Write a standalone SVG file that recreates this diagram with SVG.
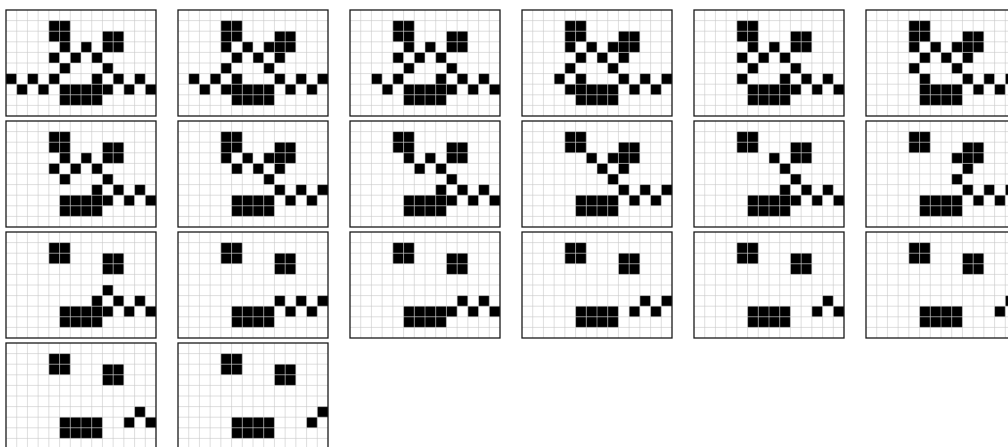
<svg xmlns="http://www.w3.org/2000/svg" xmlns:xlink="http://www.w3.org/1999/xlink" width="1008" height="447" viewBox="0 0 1008 447">
<style>
.bg{fill:#fff}
.grid{fill:none;stroke:#c8c8c8;stroke-opacity:0.6;stroke-width:1}
.frame{fill:none;stroke:#1a1a1a;stroke-width:1.3}
.live{fill:#000}
</style>
<defs>
<rect id="c" width="1" height="1"/>
<path id="gridlines" d="M10.71 0V106M21.43 0V106M32.14 0V106M42.86 0V106M53.57 0V106M64.29 0V106M75 0V106M85.71 0V106M96.43 0V106M107.14 0V106M117.86 0V106M128.57 0V106M139.29 0V106M0 10.6H150M0 21.2H150M0 31.8H150M0 42.4H150M0 53H150M0 63.6H150M0 74.2H150M0 84.8H150M0 95.4H150"/>
<g id="base">
<use href="#c" x="4" y="1"/><use href="#c" x="5" y="1"/><use href="#c" x="4" y="2"/><use href="#c" x="5" y="2"/>
<use href="#c" x="9" y="2"/><use href="#c" x="10" y="2"/><use href="#c" x="9" y="3"/><use href="#c" x="10" y="3"/>
<use href="#c" x="5" y="8"/><use href="#c" x="6" y="8"/><use href="#c" x="7" y="8"/><use href="#c" x="8" y="8"/>
</g>
<g id="oddStream">
<use href="#c" x="8" y="6"/><use href="#c" x="10" y="6"/><use href="#c" x="12" y="6"/>
<use href="#c" x="5" y="7"/><use href="#c" x="6" y="7"/><use href="#c" x="7" y="7"/><use href="#c" x="8" y="7"/><use href="#c" x="9" y="7"/><use href="#c" x="11" y="7"/><use href="#c" x="13" y="7"/>
</g>
<g id="evenStream">
<use href="#c" x="9" y="6"/><use href="#c" x="11" y="6"/><use href="#c" x="13" y="6"/>
<use href="#c" x="5" y="7"/><use href="#c" x="6" y="7"/><use href="#c" x="7" y="7"/><use href="#c" x="8" y="7"/><use href="#c" x="10" y="7"/><use href="#c" x="12" y="7"/>
</g>
<g id="oddDiag">
<use href="#c" x="5" y="3"/><use href="#c" x="7" y="3"/><use href="#c" x="4" y="4"/><use href="#c" x="6" y="4"/><use href="#c" x="8" y="4"/><use href="#c" x="5" y="5"/><use href="#c" x="9" y="5"/>
</g>
<g id="evenDiag">
<use href="#c" x="4" y="3"/><use href="#c" x="6" y="3"/><use href="#c" x="8" y="3"/><use href="#c" x="5" y="4"/><use href="#c" x="7" y="4"/><use href="#c" x="9" y="4"/><use href="#c" x="4" y="5"/><use href="#c" x="8" y="5"/>
</g>
</defs>

<g id="panel1" transform="translate(6,10)">
<rect class="bg" width="150" height="106"/>
<g class="live" transform="scale(10.7143,10.6)">
<use href="#base"/><use href="#oddDiag"/><use href="#oddStream"/>
<use href="#c" x="0" y="6"/><use href="#c" x="2" y="6"/><use href="#c" x="4" y="6"/><use href="#c" x="1" y="7"/><use href="#c" x="3" y="7"/>
</g>
<use href="#gridlines" class="grid"/><rect class="frame" width="150" height="106"/>
</g>

<g id="panel2" transform="translate(178,10)">
<rect class="bg" width="150" height="106"/>
<g class="live" transform="scale(10.7143,10.6)">
<use href="#base"/><use href="#evenDiag"/><use href="#evenStream"/>
<use href="#c" x="1" y="6"/><use href="#c" x="3" y="6"/><use href="#c" x="5" y="6"/><use href="#c" x="2" y="7"/><use href="#c" x="4" y="7"/>
</g>
<use href="#gridlines" class="grid"/><rect class="frame" width="150" height="106"/>
</g>

<g id="panel3" transform="translate(350,10)">
<rect class="bg" width="150" height="106"/>
<g class="live" transform="scale(10.7143,10.6)">
<use href="#base"/><use href="#oddDiag"/><use href="#oddStream"/>
<use href="#c" x="2" y="6"/><use href="#c" x="4" y="6"/><use href="#c" x="3" y="7"/>
</g>
<use href="#gridlines" class="grid"/><rect class="frame" width="150" height="106"/>
</g>

<g id="panel4" transform="translate(522,10)">
<rect class="bg" width="150" height="106"/>
<g class="live" transform="scale(10.7143,10.6)">
<use href="#base"/><use href="#evenDiag"/><use href="#evenStream"/>
<use href="#c" x="3" y="6"/><use href="#c" x="5" y="6"/><use href="#c" x="4" y="7"/>
</g>
<use href="#gridlines" class="grid"/><rect class="frame" width="150" height="106"/>
</g>

<g id="panel5" transform="translate(694,10)">
<rect class="bg" width="150" height="106"/>
<g class="live" transform="scale(10.7143,10.6)">
<use href="#base"/><use href="#oddDiag"/><use href="#oddStream"/>
<use href="#c" x="4" y="6"/>
</g>
<use href="#gridlines" class="grid"/><rect class="frame" width="150" height="106"/>
</g>

<g id="panel6" transform="translate(866,10)">
<rect class="bg" width="150" height="106"/>
<g class="live" transform="scale(10.7143,10.6)">
<use href="#base"/><use href="#evenDiag"/><use href="#evenStream"/>
<use href="#c" x="5" y="6"/>
</g>
<use href="#gridlines" class="grid"/><rect class="frame" width="150" height="106"/>
</g>

<g id="panel7" transform="translate(6,121)">
<rect class="bg" width="150" height="106"/>
<g class="live" transform="scale(10.7143,10.6)">
<use href="#base"/><use href="#oddDiag"/><use href="#oddStream"/>
</g>
<use href="#gridlines" class="grid"/><rect class="frame" width="150" height="106"/>
</g>

<g id="panel8" transform="translate(178,121)">
<rect class="bg" width="150" height="106"/>
<g class="live" transform="scale(10.7143,10.6)">
<use href="#base"/><use href="#evenStream"/>
<use href="#c" x="4" y="3"/><use href="#c" x="6" y="3"/><use href="#c" x="8" y="3"/><use href="#c" x="5" y="4"/><use href="#c" x="7" y="4"/><use href="#c" x="9" y="4"/><use href="#c" x="8" y="5"/>
</g>
<use href="#gridlines" class="grid"/><rect class="frame" width="150" height="106"/>
</g>

<g id="panel9" transform="translate(350,121)">
<rect class="bg" width="150" height="106"/>
<g class="live" transform="scale(10.7143,10.6)">
<use href="#base"/><use href="#oddStream"/>
<use href="#c" x="5" y="3"/><use href="#c" x="7" y="3"/><use href="#c" x="6" y="4"/><use href="#c" x="8" y="4"/><use href="#c" x="9" y="5"/>
</g>
<use href="#gridlines" class="grid"/><rect class="frame" width="150" height="106"/>
</g>

<g id="panel10" transform="translate(522,121)">
<rect class="bg" width="150" height="106"/>
<g class="live" transform="scale(10.7143,10.6)">
<use href="#base"/><use href="#evenStream"/>
<use href="#c" x="6" y="3"/><use href="#c" x="8" y="3"/><use href="#c" x="7" y="4"/><use href="#c" x="9" y="4"/><use href="#c" x="8" y="5"/>
</g>
<use href="#gridlines" class="grid"/><rect class="frame" width="150" height="106"/>
</g>

<g id="panel11" transform="translate(694,121)">
<rect class="bg" width="150" height="106"/>
<g class="live" transform="scale(10.7143,10.6)">
<use href="#base"/><use href="#oddStream"/>
<use href="#c" x="7" y="3"/><use href="#c" x="8" y="4"/><use href="#c" x="9" y="5"/>
</g>
<use href="#gridlines" class="grid"/><rect class="frame" width="150" height="106"/>
</g>

<g id="panel12" transform="translate(866,121)">
<rect class="bg" width="150" height="106"/>
<g class="live" transform="scale(10.7143,10.6)">
<use href="#base"/><use href="#evenStream"/>
<use href="#c" x="8" y="3"/><use href="#c" x="9" y="4"/><use href="#c" x="8" y="5"/>
</g>
<use href="#gridlines" class="grid"/><rect class="frame" width="150" height="106"/>
</g>

<g id="panel13" transform="translate(6,232)">
<rect class="bg" width="150" height="106"/>
<g class="live" transform="scale(10.7143,10.6)">
<use href="#base"/><use href="#oddStream"/>
<use href="#c" x="9" y="5"/>
</g>
<use href="#gridlines" class="grid"/><rect class="frame" width="150" height="106"/>
</g>

<g id="panel14" transform="translate(178,232)">
<rect class="bg" width="150" height="106"/>
<g class="live" transform="scale(10.7143,10.6)">
<use href="#base"/><use href="#evenStream"/>
</g>
<use href="#gridlines" class="grid"/><rect class="frame" width="150" height="106"/>
</g>

<g id="panel15" transform="translate(350,232)">
<rect class="bg" width="150" height="106"/>
<g class="live" transform="scale(10.7143,10.6)">
<use href="#base"/>
<use href="#c" x="10" y="6"/><use href="#c" x="12" y="6"/>
<use href="#c" x="5" y="7"/><use href="#c" x="6" y="7"/><use href="#c" x="7" y="7"/><use href="#c" x="8" y="7"/><use href="#c" x="9" y="7"/><use href="#c" x="11" y="7"/><use href="#c" x="13" y="7"/>
</g>
<use href="#gridlines" class="grid"/><rect class="frame" width="150" height="106"/>
</g>

<g id="panel16" transform="translate(522,232)">
<rect class="bg" width="150" height="106"/>
<g class="live" transform="scale(10.7143,10.6)">
<use href="#base"/>
<use href="#c" x="11" y="6"/><use href="#c" x="13" y="6"/>
<use href="#c" x="5" y="7"/><use href="#c" x="6" y="7"/><use href="#c" x="7" y="7"/><use href="#c" x="8" y="7"/><use href="#c" x="10" y="7"/><use href="#c" x="12" y="7"/>
</g>
<use href="#gridlines" class="grid"/><rect class="frame" width="150" height="106"/>
</g>

<g id="panel17" transform="translate(694,232)">
<rect class="bg" width="150" height="106"/>
<g class="live" transform="scale(10.7143,10.6)">
<use href="#base"/>
<use href="#c" x="12" y="6"/>
<use href="#c" x="5" y="7"/><use href="#c" x="6" y="7"/><use href="#c" x="7" y="7"/><use href="#c" x="8" y="7"/><use href="#c" x="11" y="7"/><use href="#c" x="13" y="7"/>
</g>
<use href="#gridlines" class="grid"/><rect class="frame" width="150" height="106"/>
</g>

<g id="panel18" transform="translate(866,232)">
<rect class="bg" width="150" height="106"/>
<g class="live" transform="scale(10.7143,10.6)">
<use href="#base"/>
<use href="#c" x="13" y="6"/>
<use href="#c" x="5" y="7"/><use href="#c" x="6" y="7"/><use href="#c" x="7" y="7"/><use href="#c" x="8" y="7"/><use href="#c" x="12" y="7"/>
</g>
<use href="#gridlines" class="grid"/><rect class="frame" width="150" height="106"/>
</g>

<g id="panel19" transform="translate(6,343)">
<rect class="bg" width="150" height="106"/>
<g class="live" transform="scale(10.7143,10.6)">
<use href="#base"/>
<use href="#c" x="12" y="6"/><use href="#c" x="11" y="7"/><use href="#c" x="13" y="7"/>
<use href="#c" x="5" y="7"/><use href="#c" x="6" y="7"/><use href="#c" x="7" y="7"/><use href="#c" x="8" y="7"/>
</g>
<use href="#gridlines" class="grid"/><rect class="frame" width="150" height="106"/>
</g>

<g id="panel20" transform="translate(178,343)">
<rect class="bg" width="150" height="106"/>
<g class="live" transform="scale(10.7143,10.6)">
<use href="#base"/>
<use href="#c" x="13" y="6"/><use href="#c" x="12" y="7"/>
<use href="#c" x="5" y="7"/><use href="#c" x="6" y="7"/><use href="#c" x="7" y="7"/><use href="#c" x="8" y="7"/>
</g>
<use href="#gridlines" class="grid"/><rect class="frame" width="150" height="106"/>
</g>
</svg>
